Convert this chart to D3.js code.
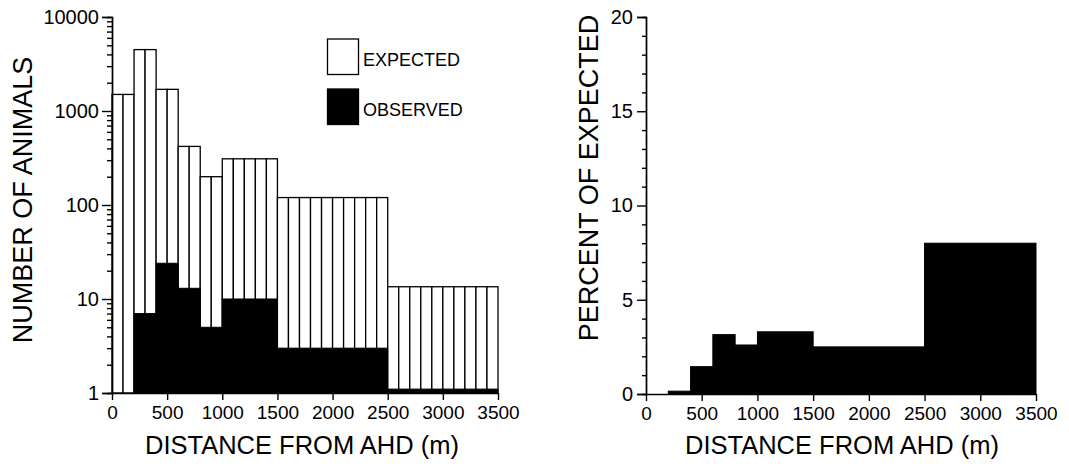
<!DOCTYPE html>
<html>
<head>
<meta charset="utf-8">
<script src="https://cdn.jsdelivr.net/npm/d3@7"></script>
<style>
  html, body { margin: 0; padding: 0; background: #fff; }
  svg { display: block; }
  text { font-family: "Liberation Sans", Arial, Helvetica, sans-serif; fill: #000; }
</style>
</head>
<body>
<svg id="chart" width="1069" height="468"></svg>
<script>
// Distance classes (m) from the AHD
const binStart = [0, 200, 400, 600, 800, 1000, 1500, 2500];
const binEnd   = [200, 400, 600, 800, 1000, 1500, 2500, 3500];
// Number of animals per 100 m strip in each class
const expected = [1500, 4500, 1700, 420, 200, 310, 120, 13.5];
const observed = [0, 7, 24, 13, 5, 10, 3, 1.1];
// Observed as percent of expected
const percent  = [0, 0.15, 1.45, 3.15, 2.6, 3.3, 2.5, 8.0];

const distanceTicks = [0, 500, 1000, 1500, 2000, 2500, 3000, 3500];
const countTicks = [1, 10, 100, 1000, 10000];
const percentTicks = [0, 5, 10, 15, 20];
const stripWidth = 100;

const svg = d3.select("#chart");
const AXIS_W = 1.4;

const classes = binStart.map((s, i) => ({
  start: s, end: binEnd[i], expected: expected[i], observed: observed[i], percent: percent[i]
}));

function styleAxis(fontSize) {
  return g => {
    g.select(".domain").attr("stroke", "#000").attr("stroke-width", AXIS_W);
    g.selectAll(".tick line").attr("stroke", "#000").attr("stroke-width", AXIS_W);
    g.selectAll(".tick text").attr("font-size", fontSize)
      .style("font-family", '"Liberation Sans", Arial, sans-serif');
  };
}

// ---------- Left panel: counts on a log scale ----------
const xL = d3.scaleLinear().domain([0, 3500]).range([112, 498]);
const yL = d3.scaleLog().domain([1, 10000]).range([393, 17]);

const left = svg.append("g");

// expected counts, one outlined bar per 100 m strip
const strips = classes.flatMap(c =>
  d3.range(c.start, c.end, stripWidth).map(s => ({ s, e: s + stripWidth, v: c.expected })));
left.selectAll("rect.exp").data(strips).join("rect")
  .attr("class", "exp")
  .attr("x", d => xL(d.s))
  .attr("y", d => yL(d.v))
  .attr("width", d => xL(d.e) - xL(d.s))
  .attr("height", d => yL(1) - yL(d.v))
  .attr("fill", "#fff")
  .attr("stroke", "#000")
  .attr("stroke-width", 1.3);

// observed counts, solid black
left.selectAll("rect.obs").data(classes.filter(c => c.observed >= 1)).join("rect")
  .attr("class", "obs")
  .attr("x", d => xL(d.start))
  .attr("y", d => yL(d.observed))
  .attr("width", d => xL(d.end) - xL(d.start))
  .attr("height", d => yL(1) - yL(d.observed))
  .attr("fill", "#000")
  .attr("stroke", "#000")
  .attr("stroke-width", 1);

// log minor ticks
const minorCounts = [];
[1, 10, 100, 1000].forEach(d => { for (let k = 2; k <= 9; k++) minorCounts.push(k * d); });
left.append("g").attr("transform", `translate(${xL(0)},0)`)
  .call(d3.axisLeft(yL).tickValues(minorCounts).tickSize(5).tickFormat(""))
  .call(styleAxis(20));

left.append("g").attr("transform", `translate(${xL(0)},0)`)
  .call(d3.axisLeft(yL).tickValues(countTicks).tickSize(10).tickPadding(3).tickFormat(d3.format("d")))
  .call(styleAxis(20));

left.append("g").attr("transform", `translate(0,${yL(1)})`)
  .call(d3.axisBottom(xL).tickValues(distanceTicks).tickSize(7).tickPadding(6)
    .tickSizeOuter(0).tickFormat(d3.format("d")))
  .call(styleAxis(19));

left.append("text")
  .attr("transform", `translate(32,200) rotate(-90)`)
  .attr("text-anchor", "middle")
  .attr("font-size", 27)
  .text("NUMBER OF ANIMALS");

left.append("text")
  .attr("x", (xL(0) + xL(3500)) / 2 - 3)
  .attr("y", 454)
  .attr("text-anchor", "middle")
  .attr("font-size", 25.5)
  .text("DISTANCE FROM AHD (m)");

// legend
const legend = left.append("g");
const legendItems = [
  { label: "EXPECTED", fill: "#fff", y: 39 },
  { label: "OBSERVED", fill: "#000", y: 89 }
];
legend.selectAll("rect").data(legendItems).join("rect")
  .attr("x", 327.5).attr("y", d => d.y)
  .attr("width", 31).attr("height", 35.5)
  .attr("fill", d => d.fill)
  .attr("stroke", "#000").attr("stroke-width", 1.3);
legend.selectAll("text").data(legendItems).join("text")
  .attr("x", 363).attr("y", d => d.y + 26.5)
  .attr("font-size", 18)
  .text(d => d.label);

// ---------- Right panel: percent of expected ----------
const xR = d3.scaleLinear().domain([0, 3500]).range([646, 1036]);
const yR = d3.scaleLinear().domain([0, 20]).range([394, 17]);

const right = svg.append("g");

right.selectAll("rect.pct").data(classes.filter(c => c.percent > 0)).join("rect")
  .attr("class", "pct")
  .attr("x", d => xR(d.start))
  .attr("y", d => yR(d.percent))
  .attr("width", d => xR(d.end) - xR(d.start))
  .attr("height", d => yR(0) - yR(d.percent))
  .attr("fill", "#000")
  .attr("stroke", "#000")
  .attr("stroke-width", 1);

right.append("g").attr("transform", `translate(${xR(0)},0)`)
  .call(d3.axisLeft(yR).tickValues(d3.range(0, 21, 1).filter(v => v % 5 !== 0)).tickSize(4).tickFormat(""))
  .call(styleAxis(20));

right.append("g").attr("transform", `translate(${xR(0)},0)`)
  .call(d3.axisLeft(yR).tickValues(percentTicks).tickSize(9).tickPadding(4).tickFormat(d3.format("d")))
  .call(styleAxis(20));

right.append("g").attr("transform", `translate(0,${yR(0)})`)
  .call(d3.axisBottom(xR).tickValues(distanceTicks).tickSize(7).tickPadding(6)
    .tickSizeOuter(0).tickFormat(d3.format("d")))
  .call(styleAxis(19));

right.append("text")
  .attr("transform", `translate(598,178) rotate(-90)`)
  .attr("text-anchor", "middle")
  .attr("font-size", 27)
  .text("PERCENT OF EXPECTED");

right.append("text")
  .attr("x", (xR(0) + xR(3500)) / 2 + 1)
  .attr("y", 454)
  .attr("text-anchor", "middle")
  .attr("font-size", 25.5)
  .text("DISTANCE FROM AHD (m)");
</script>
</body>
</html>
